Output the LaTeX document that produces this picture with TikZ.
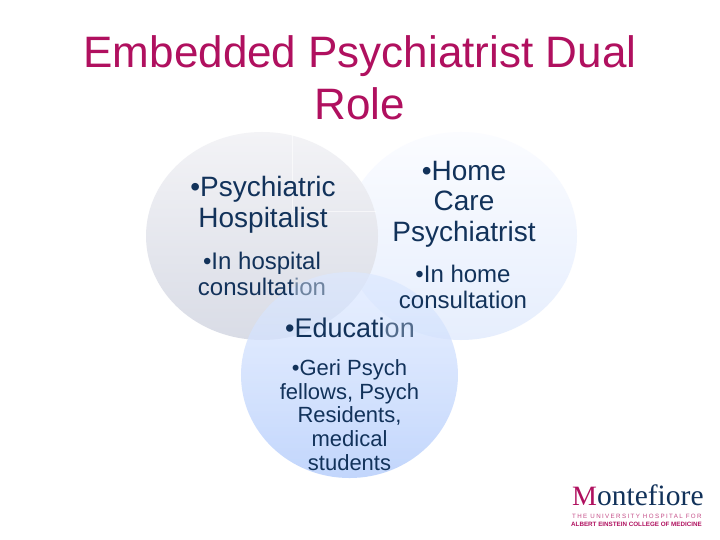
\documentclass[tikz,border=0pt]{standalone}
\usepackage{fontspec}
\setmainfont{Liberation Sans}
\newfontfamily\logofont{Liberation Serif}
\newfontfamily\logosans[LetterSpace=22]{Liberation Sans}
\usetikzlibrary{shapes.geometric,fadings}
\definecolor{titlec}{HTML}{B0105F}
\definecolor{navy}{HTML}{12325A}
\definecolor{fadec}{HTML}{6F84A0}
\definecolor{hosptop}{HTML}{F3F3F6}
\definecolor{hospbot}{HTML}{D9DCE6}
\definecolor{hometop}{HTML}{FBFCFF}
\definecolor{homebot}{HTML}{E6EEFD}
\definecolor{edutop}{HTML}{DCE8FF}
\definecolor{edubot}{HTML}{C2D6FC}
\tikzfading[name=edufade,top color=transparent!35,bottom color=transparent!0]
\tikzset{
  big/.style={align=center,text=navy,font=\fontsize{28}{30.5}\selectfont,inner sep=0pt},
  small/.style={align=center,text=navy,font=\fontsize{24}{25.5}\selectfont,inner sep=0pt},
  smaller/.style={align=center,text=navy,font=\fontsize{22}{23.7}\selectfont,inner sep=0pt},
  lobe/.style={ellipse,inner sep=0pt,draw=none},
}
\begin{document}
\begin{tikzpicture}[x=1pt,y=-1pt]
\useasboundingbox (0,0) rectangle (720,540);
\fill[white] (0,0) rectangle (720,540);
\node[lobe,minimum width=232pt,minimum height=208pt,top color=hometop,bottom color=homebot] (homec) at (461,236) {};
\node[lobe,minimum width=232pt,minimum height=208pt,top color=hosptop,bottom color=hospbot] (hosp) at (262,236) {};
\node[lobe,minimum width=217pt,minimum height=206pt,top color=edutop,bottom color=edubot,path fading=edufade] (edu) at (349.5,375) {};
\coordinate (va) at (292,133);
\coordinate (vb) at (292,211);
\coordinate (hb) at (376,211);
\draw[white,line width=0.7pt,opacity=0.6] (va) -- (vb) -- (hb);
\node[font=\fontsize{44}{52}\selectfont,text=titlec,align=center,inner sep=0pt] (title) at (360,78) {Embedded Psychiatrist Dual\\Role};
\node[big] (t1) at (263,205) {•Psychiatric\\Hospitalist};
\node[small] (t2) at (262,274) {•In hospital\\consultat{\color{fadec}ion}};
\node[big] (t3) at (464,204) {•Home\\Care\\Psychiatrist};
\node[small] (t4) at (463,287) {•In home\\consultation};
\node[font=\fontsize{27}{30}\selectfont,text=navy,inner sep=0pt] (t5) at (350,328) {•Educati{\color{fadec!70!navy}on}};
\node[smaller] (t6) at (349.5,415) {•Geri Psych\\fellows, Psych\\Residents,\\medical\\students};
\node[font=\logofont\fontsize{29.5}{30}\selectfont,text=navy,inner sep=0pt,anchor=base west] (logo) at (572,505) {{\color{titlec}\fontsize{28}{30}\selectfont M}ontefiore};
\node[font=\logosans\fontsize{6.2}{6.5}\selectfont,text=titlec!75!white,inner sep=0pt,anchor=west] (logoa) at (572,516) {THE UNIVERSITY HOSPITAL FOR};
\node[font=\bfseries\fontsize{6.25}{6.5}\selectfont,text=titlec,inner sep=0pt,anchor=west] (logob) at (571,524.5) {ALBERT EINSTEIN COLLEGE OF MEDICINE};
\end{tikzpicture}
\end{document}
